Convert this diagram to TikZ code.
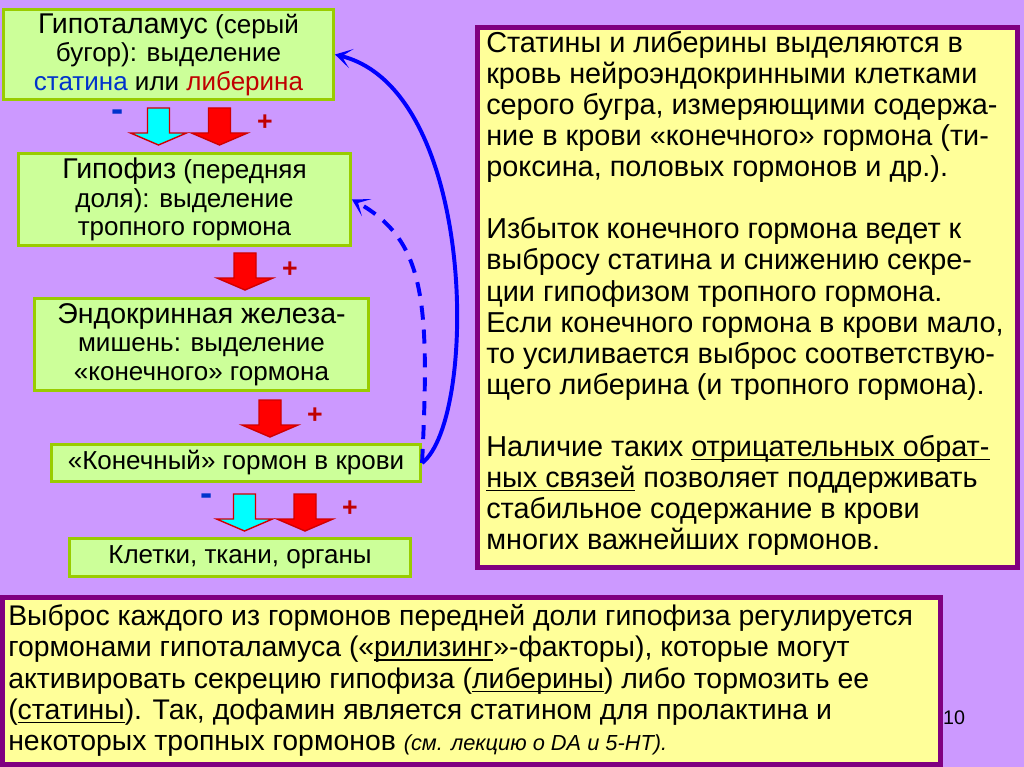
\documentclass[tikz,border=0pt]{standalone}
\usepackage{fontspec}
\setmainfont{Liberation Sans}
\usetikzlibrary{arrows.meta,positioning}
\newcommand{\uln}[1]{\sbox0{#1}\rlap{\rule[-2.8pt]{\wd0}{0.9pt}}\usebox0}
\definecolor{SlideLilac}{HTML}{CC99FF}
\definecolor{StageFill}{HTML}{CCFF99}
\definecolor{StageEdge}{HTML}{99CC00}
\definecolor{NoteFill}{HTML}{FFFF99}
\definecolor{NoteEdge}{HTML}{800080}
\definecolor{LoopBlue}{HTML}{0000FF}
\definecolor{StatinBlue}{HTML}{0033CC}
\definecolor{LiberinRed}{HTML}{C00000}
\definecolor{BlockCyan}{HTML}{00FFFF}
\definecolor{BlockRed}{HTML}{FF0000}
\definecolor{BlockEdge}{HTML}{D00000}

\begin{document}
\begin{tikzpicture}[
  x=0.025cm, y=-0.025cm,
  stage/.style={draw=StageEdge, fill=StageFill, line width=2pt, align=center,
                inner sep=0pt, font=\fontsize{18.5}{20.2}\selectfont},
  notebox/.style={draw=NoteEdge, fill=NoteFill, line width=3.5pt, inner sep=0pt},
  loop/.style={draw=LoopBlue, line width=2.8pt,
               -{Stealth[length=12pt,width=14pt,inset=7pt]}},
  minus/.style={font=\bfseries\fontsize{26}{26}\selectfont, text=StatinBlue},
  plus/.style={font=\bfseries\fontsize{19}{19}\selectfont, text=LiberinRed},
  cyanblock/.style={fill=BlockCyan, draw=BlockEdge, line width=1pt},
  redblock/.style={fill=BlockRed, draw=BlockEdge, line width=1pt},
  blockdown/.pic={\path[pic actions] (-11,0) -- (11,0) -- (11,25) -- (28,25)
                  -- (0,37) -- (-28,25) -- (-11,25) -- cycle;}
]
\useasboundingbox (0,0) rectangle (1024,767);
\fill[SlideLilac] (0,0) rectangle (1024,767);

% chain of glands
\node[stage, minimum width=8.25cm, minimum height=2.25cm] (hypo) at (168.5,54.5)
  {{\fontsize{20.3}{20.2}\selectfont Гипоталамус} (серый\\бугор): выделение\\
   \textcolor{StatinBlue}{статина} или \textcolor{LiberinRed}{либерина}};
\node[stage, minimum width=8.3cm, minimum height=2.28cm] (pit) at (184.5,199.5)
  {{\fontsize{20.3}{20.2}\selectfont Гипофиз} (передняя\\доля): выделение\\тропного гормона};
\node[stage, minimum width=8.35cm, minimum height=2.3cm] (gland) at (201.5,344.5)
  {{\fontsize{20.3}{20.2}\selectfont Эндокринная железа-}\\мишень: выделение\\«конечного» гормона};
\node[stage, minimum width=9.23cm, minimum height=0.93cm] (blood) at (236,463)
  {«Конечный» гормон в крови};
\node[stage, minimum width=8.53cm, minimum height=0.95cm] (cells) at (240,557.5)
  {Клетки, ткани, органы};

% block arrows and signs
\pic[cyanblock] (st1) at (158.5,108) {blockdown};
\pic[redblock] (lb1) at (219.5,108) {blockdown};
\node[minus] (m1) at (118,116) {-};
\node[plus] (p1) at (265,123) {+};
\pic[redblock] (tr2) at (245,253) {blockdown};
\node[plus] (p2) at (290,270) {+};
\pic[redblock] (tr3) at (270,400) {blockdown};
\node[plus] (p3) at (315,416) {+};
\pic[cyanblock] (st4) at (244.5,494) {blockdown};
\pic[redblock] (lb4) at (305,494) {blockdown};
\node[minus] (m4) at (207,500) {-};
\node[plus] (p4) at (350,509) {+};

% feedback loops
\draw[loop] (blood.east) .. controls (478,420) and (478,90) .. (hypo.east);
\draw[loop, dash pattern=on 10pt off 7pt]
  (blood.east) .. controls (430,300) and (425,240) .. (pit.east);

% explanations
\node[notebox, minimum width=13.5cm, minimum height=13.5cm] (note) at (747.5,297.5) {};
\node[anchor=north west, align=left, inner sep=0pt,
      font=\fontsize{20.5}{22.1}\selectfont] (notetext) at (486,31)
  {Статины и либерины выделяются в\\
   кровь нейроэндокринными клетками\\
   серого бугра, измеряющими содержа-\\
   ние в крови «конечного» гормона (ти-\\
   роксина, половых гормонов и др.).\\[22.1pt]
   Избыток конечного гормона ведет к\\
   выбросу статина и снижению секре-\\
   ции гипофизом тропного гормона.\\
   Если конечного гормона в крови мало,\\
   то усиливается выброс соответствую-\\
   щего либерина (и тропного гормона).\\[22.1pt]
   Наличие таких \uln{отрицательных обрат-}\\
   \uln{ных связей} позволяет поддерживать\\
   стабильное содержание в крови\\
   многих важнейших гормонов.};

\node[notebox, minimum width=23.45cm, minimum height=4.18cm] (summary) at (471.5,681) {};
\node[anchor=north west, align=left, inner sep=0pt,
      font=\fontsize{20.2}{22.3}\selectfont] (summarytext) at (8,604)
  {Выброс каждого из гормонов передней доли гипофиза регулируется\\
   гормонами гипоталамуса («\uln{рилизинг}»-факторы), которые могут\\
   активировать секрецию гипофиза (\uln{либерины}) либо тормозить ее\\
   (\uln{статины}). Так, дофамин является статином для пролактина и\\
   некоторых тропных гормонов {\itshape\fontsize{15.5}{22}\selectfont (см. лекцию о DA и 5-HT).}};

\node[font=\fontsize{14}{14}\selectfont] (pagenum) at (954,718) {10};
\end{tikzpicture}
\end{document}
